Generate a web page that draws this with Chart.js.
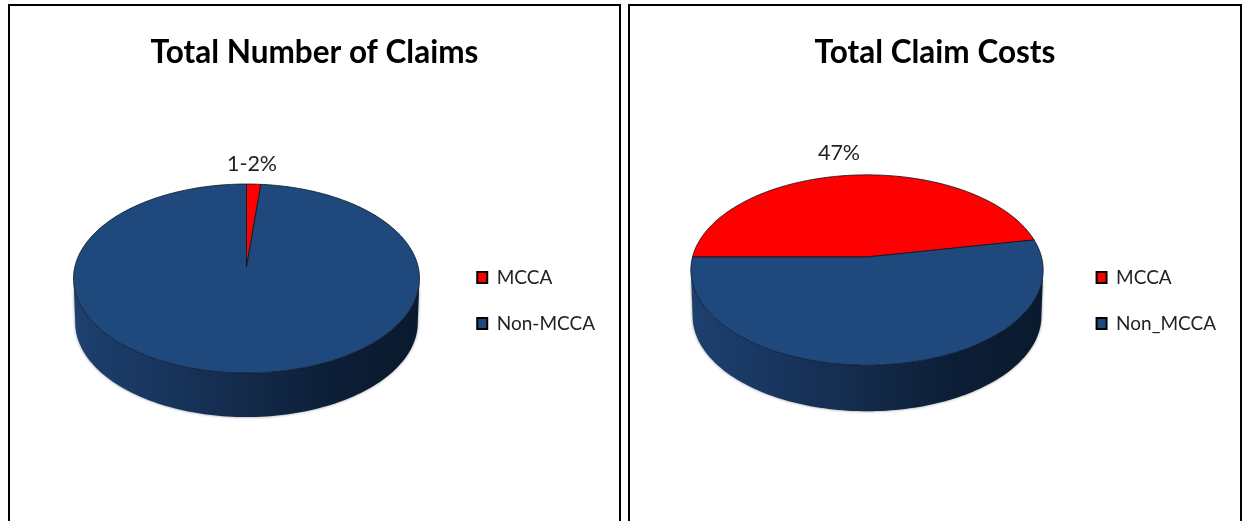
<!DOCTYPE html>
<html>
<head>
<meta charset="utf-8">
<title>MCCA claims</title>
<script src="https://cdn.jsdelivr.net/npm/chart.js@4"></script>
<style>
  html, body { margin: 0; padding: 0; width: 1243px; height: 521px; overflow: hidden; background: #fff; }
  .box { position: absolute; top: 4px; height: 600px; border: 2px solid #000; box-sizing: border-box; background: #fff; }
  #box1 { left: 8px; width: 613px; }
  #box2 { left: 628px; width: 614px; }
  canvas { display: block; }
</style>
</head>
<body>
<div class="box" id="box1"><canvas id="claims" width="609" height="589"></canvas></div>
<div class="box" id="box2"><canvas id="costs" width="610" height="589"></canvas></div>
<script>
const claimCategories = ['MCCA', 'Non-MCCA'];
const claimValues = [1.5, 98.5];
const claimLabels = ['1-2%', ''];

const costCategories = ['MCCA', 'Non_MCCA'];
const costValues = [47, 53];
const costLabels = ['47%', ''];

const RED = '#ff0000';
const BLUE = '#1f497d';
const FONT = 'Lato, "Open Sans", sans-serif';

// Point on the tilted disc for a chart angle (0 = 3 o'clock, clockwise)
function project(g, a, drop, shrink) {
  const u = Math.cos(a), v = -Math.sin(a);
  const w = 1 + g.p * v;
  return {
    x: g.x + shrink * g.a * u / w,
    y: g.y - g.b * v / w + drop
  };
}

const disc3d = {
  id: 'disc3d',
  beforeDatasetDraw(chart, args) {
    const ctx = chart.ctx;
    const g = chart.config.options.disc;
    const arcs = args.meta.data;

    // side wall
    const a0 = Math.asin(g.p);
    const a1 = Math.PI - a0;
    const grad = ctx.createLinearGradient(g.x - g.a, 0, g.x + g.a, 0);
    grad.addColorStop(0, '#1d406f');
    grad.addColorStop(0.25, '#18355e');
    grad.addColorStop(0.5, '#132a4a');
    grad.addColorStop(0.75, '#0c1e36');
    grad.addColorStop(1, '#0a1a2e');
    ctx.save();
    ctx.beginPath();
    for (let i = 0; i <= 120; i++) {
      const p = project(g, a0 + (a1 - a0) * i / 120, g.depth, 0.99);
      if (i === 0) ctx.moveTo(p.x, p.y); else ctx.lineTo(p.x, p.y);
    }
    for (let i = 120; i >= 0; i--) {
      const p = project(g, a0 + (a1 - a0) * i / 120, 0, 1);
      ctx.lineTo(p.x, p.y);
    }
    ctx.closePath();
    ctx.shadowColor = 'rgba(0,0,0,0.45)';
    ctx.shadowBlur = 3;
    ctx.fillStyle = grad;
    ctx.fill();
    ctx.restore();

    // top face, one slice per arc element
    ctx.save();
    ctx.lineWidth = 0.8;
    ctx.lineJoin = 'round';
    ctx.strokeStyle = '#0a1420';
    arcs.forEach(arc => {
      const steps = Math.max(4, Math.ceil((arc.endAngle - arc.startAngle) * 60));
      ctx.beginPath();
      ctx.moveTo(g.x, g.y);
      for (let i = 0; i <= steps; i++) {
        const p = project(g, arc.startAngle + (arc.endAngle - arc.startAngle) * i / steps, 0, 1);
        ctx.lineTo(p.x, p.y);
      }
      ctx.closePath();
      ctx.fillStyle = arc.options.backgroundColor;
      ctx.fill();
      ctx.stroke();
    });
    ctx.restore();

    // slice labels
    ctx.save();
    ctx.font = '21.5px ' + FONT;
    ctx.fillStyle = '#222';
    ctx.textAlign = 'center';
    ctx.textBaseline = 'middle';
    chart.config.options.sliceLabels.forEach(t => {
      if (t) ctx.fillText(t, g.labelX, g.labelY);
    });
    ctx.restore();
    return false;
  }
};

function makeChart(id, title, cats, vals, labels, rotation, disc) {
  new Chart(document.getElementById(id), {
    type: 'pie',
    data: {
      labels: cats,
      datasets: [{
        data: vals,
        backgroundColor: [RED, BLUE],
        borderColor: '#000',
        borderWidth: 2
      }]
    },
    plugins: [disc3d],
    options: {
      responsive: false,
      animation: false,
      rotation: rotation,
      disc: disc,
      sliceLabels: labels,
      layout: { padding: { left: 14, right: 14, bottom: 0 } },
      plugins: {
        tooltip: { enabled: false },
        title: {
          display: true,
          text: title,
          color: '#000',
          font: { family: FONT, size: 31.5, weight: 'bold' },
          padding: { top: 28, bottom: 12 }
        },
        legend: {
          position: 'right',
          labels: {
            color: '#222',
            font: { family: FONT, size: 19 },
            boxWidth: 10,
            boxHeight: 11,
            padding: 27
          }
        }
      }
    }
  });
}

makeChart('claims', 'Total Number of Claims', claimCategories, claimValues, claimLabels, 0,
  { x: 236.5, y: 261, a: 171.7, b: 93.1, p: 0.122, depth: 44, labelX: 242, labelY: 158 });
makeChart('costs', 'Total Claim Costs', costCategories, costValues, costLabels, 270,
  { x: 237, y: 251, a: 174.5, b: 93.4, p: 0.137, depth: 46, labelX: 209, labelY: 147 });
</script>
</body>
</html>
